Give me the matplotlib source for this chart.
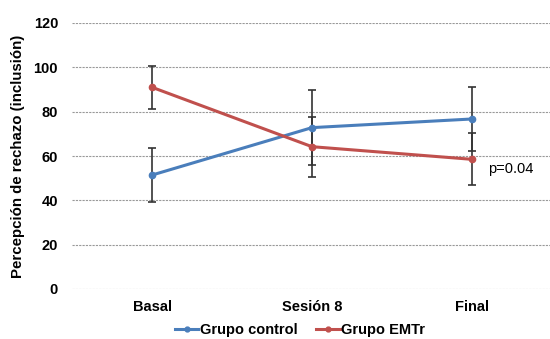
import matplotlib.pyplot as plt
from matplotlib.lines import Line2D
import numpy as np

plt.rcParams['font.family'] = ['Liberation Sans', 'DejaVu Sans']

categorias = ['Basal', 'Sesión 8', 'Final']
control = [51.4, 72.8, 76.7]
control_err = [12.2, 17.0, 14.6]
emtr = [91.0, 64.2, 58.5]
emtr_err = [9.8, 13.5, 11.7]
yticks = [0, 20, 40, 60, 80, 100, 120]

azul = '#4a7ebb'
rojo = '#c0504d'

fig = plt.figure(figsize=(5.5, 3.39), dpi=100)
ax = fig.add_axes([72 / 550, 1 - 289 / 339, 480 / 550, 266 / 339])

x = np.arange(len(categorias))
ax.errorbar(x, control, yerr=control_err, color=azul, lw=2.2,
            marker='o', ms=4.5, ecolor='#333333', elinewidth=1.2,
            capsize=3, capthick=1.2, zorder=3)
ax.errorbar(x, emtr, yerr=emtr_err, color=rojo, lw=2.2,
            marker='o', ms=4.5, ecolor='#333333', elinewidth=1.2,
            capsize=3, capthick=1.2, zorder=3)

ax.text(2.1, 54, 'p=0.04', fontsize=10.5, va='center', ha='left')

ax.set_xlim(-0.5, 2.5)
ax.set_ylim(0, 120)
ax.set_yticks(yticks)
ax.set_xticks(x)
ax.set_xticklabels(categorias, fontsize=10.5, fontweight='bold')
ax.set_yticklabels([str(v) for v in yticks], fontsize=10.5, fontweight='bold')
ax.tick_params(axis='y', length=0, pad=10)
ax.tick_params(axis='x', length=0, pad=8)
ax.yaxis.grid(True, color='#999999', ls=(0, (2, 1)), lw=0.8)
for s in ax.spines.values():
    s.set_visible(False)
ax.set_ylabel('Percepción de rechazo (inclusión)', fontsize=10.8,
              fontweight='bold', labelpad=6)

handles = [Line2D([], [], color=azul, lw=2.2, marker='o', ms=3.5),
           Line2D([], [], color=rojo, lw=2.2, marker='o', ms=3.5)]
fig.legend(handles, ['Grupo control', 'Grupo EMTr'], loc='center',
           bbox_to_anchor=(300 / 550, 1 - 330 / 339), ncol=2, frameon=False,
           handlelength=1.6, columnspacing=1.3, handletextpad=0.1,
           borderpad=0, prop={'weight': 'bold', 'size': 10.5})

fig.savefig('out.png', dpi=100)
